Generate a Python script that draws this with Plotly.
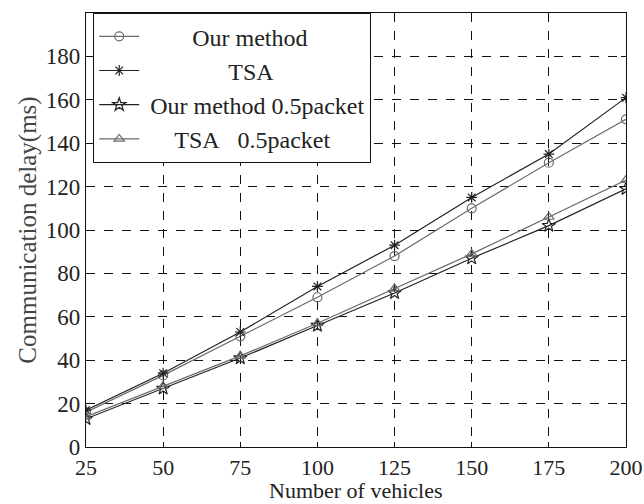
import plotly.graph_objects as go

x_vehicles = [25, 50, 75, 100, 125, 150, 175, 200]
our_method = [16, 33, 51, 69, 88, 110, 131, 151]
tsa = [17, 34, 53, 74, 93, 115, 135, 161]
our_method_half = [13, 27, 41, 56, 71, 87, 102, 119]
tsa_half = [14, 28, 42, 57, 73, 89, 106, 123]

x_ticks = [25, 50, 75, 100, 125, 150, 175, 200]
y_ticks = [0, 20, 40, 60, 80, 100, 120, 140, 160, 180]

FONT = "Liberation Serif"
NB = "\u00a0"

series = [
    ("Our method", our_method, "circle-open", "#6a6a6a", 9, NB * 8 + "Our method"),
    ("TSA", tsa, "asterisk-open", "#222222", 9, NB * 14 + "TSA"),
    ("Our method 0.5packet", our_method_half, "star-open", "#222222", 10, NB + "Our method 0.5packet"),
    ("TSA 0.5packet", tsa_half, "triangle-up-open", "#6a6a6a", 9, NB * 5 + "TSA" + NB * 3 + "0.5packet"),
]

fig = go.Figure()
for name, ys, sym, col, sz, label in series:
    fig.add_trace(go.Scatter(
        x=x_vehicles, y=ys, mode="lines+markers", name=label,
        line=dict(color=col, width=1.2),
        marker=dict(symbol=sym, size=sz, color=col, line=dict(width=1.2, color=col)),
    ))

fig.update_layout(
    width=644, height=504,
    margin=dict(l=86, r=18, t=13, b=57),
    paper_bgcolor="white", plot_bgcolor="white",
    font=dict(family=FONT, size=23, color="#222222"),
    showlegend=True,
    legend=dict(
        x=0.013, y=1.0, xanchor="left", yanchor="top",
        bgcolor="white", bordercolor="#111111", borderwidth=1.2,
        font=dict(family=FONT, size=24, color="#222222"),
        itemwidth=40, tracegroupgap=0,
    ),
    xaxis=dict(
        range=[25, 200], tickvals=x_ticks, ticktext=[str(v) for v in x_ticks],
        showgrid=True, gridcolor="#111111", griddash="dash", gridwidth=1,
        showline=True, linecolor="#111111", linewidth=1.3, mirror="ticks",
        ticks="inside", ticklen=5, tickcolor="#111111",
        zeroline=False, ticklabeloverflow="allow", automargin=False,
        tickfont=dict(family=FONT, size=22, color="#222222"),
    ),
    yaxis=dict(
        range=[0, 200], tickvals=y_ticks, ticktext=[str(v) for v in y_ticks],
        showgrid=True, gridcolor="#111111", griddash="dash", gridwidth=1,
        showline=True, linecolor="#111111", linewidth=1.3, mirror="ticks",
        ticks="inside", ticklen=5, tickcolor="#111111",
        zeroline=False, ticklabeloverflow="allow", automargin=False,
        tickfont=dict(family=FONT, size=23, color="#222222"),
        title=dict(text="Communication delay(ms)", font=dict(family=FONT, size=25, color="#444444"), standoff=2),
    ),
    annotations=[
        dict(text="Number of vehicles", xref="paper", yref="paper", x=0.5, y=0,
             xanchor="center", yanchor="middle", yshift=-43, showarrow=False,
             font=dict(family=FONT, size=22, color="#222222")),
    ],
)

fig.write_html("out.html")
